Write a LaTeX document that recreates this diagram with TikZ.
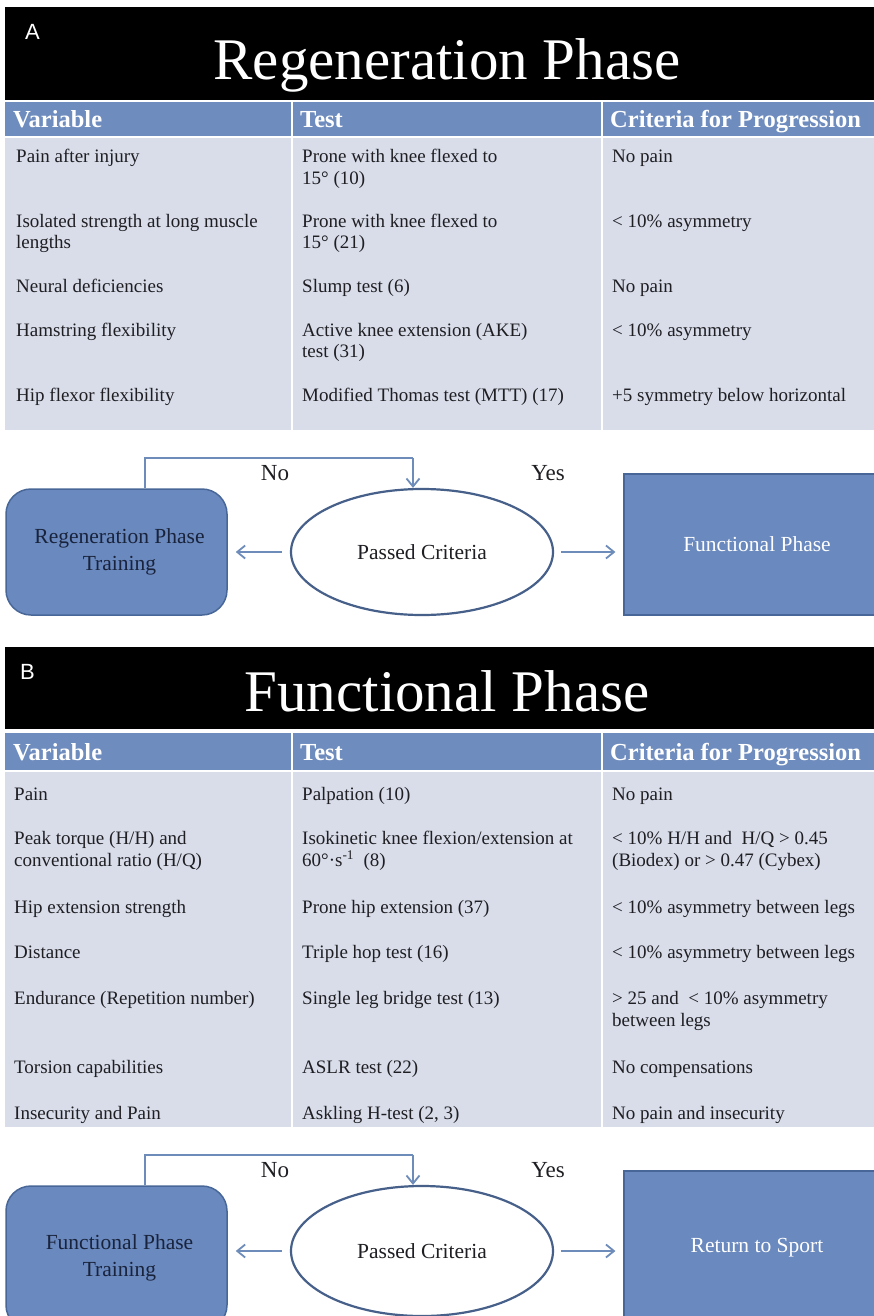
\documentclass[tikz,border=0pt]{standalone}
\usepackage{fontspec}
\setmainfont{Liberation Serif}
\newfontfamily\labelfont{Liberation Sans}
\usetikzlibrary{arrows.meta,shapes.geometric}
\definecolor{hdrblue}{RGB}{110,140,190}
\definecolor{bodybg}{RGB}{217,221,233}
\definecolor{boxfill}{RGB}{106,137,190}
\definecolor{boxline}{RGB}{72,103,152}
\definecolor{arrowc}{RGB}{110,140,185}
\definecolor{ellline}{RGB}{70,96,138}
\definecolor{txt}{RGB}{30,30,35}
\definecolor{boxtxt}{RGB}{25,35,60}
\begin{document}
\begin{tikzpicture}[x=1pt,y=-1pt,
  cell/.style={anchor=base west,inner sep=0pt,text=txt,font=\fontsize{19}{22}\selectfont},
  hdr/.style={anchor=base west,inner sep=0pt,text=white,font=\fontsize{24.5}{27}\selectfont\bfseries},
  ttl/.style={anchor=base,inner sep=0pt,text=white,font=\fontsize{59}{64}\selectfont},
  panel/.style={anchor=north west,inner sep=0pt,text=white,font=\fontsize{22}{24}\labelfont},
  trainbox/.style={draw=boxline,line width=1.5pt,fill=boxfill,rounded corners=25pt,inner sep=0pt,align=center,text=boxtxt,font=\fontsize{21.5}{27}\selectfont},
  resbox/.style={draw=boxline,line width=1.2pt,fill=boxfill,inner sep=0pt,align=center,text=white,font=\fontsize{21.5}{27}\selectfont},
  crit/.style={ellipse,draw=ellline,line width=2.2pt,fill=white,inner sep=0pt,minimum width=262pt,minimum height=126pt,text=txt,font=\fontsize{21.5}{27}\selectfont},
  yn/.style={inner sep=0pt,text=txt,font=\fontsize{23}{26}\selectfont},
  conn/.style={draw=arrowc,line width=1.8pt},
  arr/.style={conn,-{Straight Barb[length=8pt,width=13pt,line width=1.8pt]}}
]
\useasboundingbox (0,0) rectangle (874,1316);
\fill[white] (0,0) rectangle (874,1316);

% ================= PANEL A =================
\fill[black] (5,7) rectangle (874,100);
\node[panel] (labA) at (25,24) {A};
\node[ttl] (titleA) at (447,80) {Regeneration Phase};
\fill[hdrblue] (5,102) rectangle (874,136);
\fill[bodybg] (5,138) rectangle (874,430);
\draw[white,line width=2pt] (292,102) -- (292,430) (602,102) -- (602,430);
\node[hdr] (hA1) at (13,127.5) {Variable};
\node[hdr] (hA2) at (300,127.5) {Test};
\node[hdr] (hA3) at (610,127.5) {Criteria for Progression};

\node[cell] (a11) at (16,163) {Pain after injury};
\node[cell] (a12) at (302,163) {Prone with knee flexed to};
\node[cell] (a12b) at (302,184.5) {15° (10)};
\node[cell] (a13) at (612,163) {No pain};

\node[cell] (a21) at (16,227) {Isolated strength at long muscle};
\node[cell] (a21b) at (16,248.5) {lengths};
\node[cell] (a22) at (302,227) {Prone with knee flexed to};
\node[cell] (a22b) at (302,248.5) {15° (21)};
\node[cell] (a23) at (612,227) {< 10\% asymmetry};

\node[cell] (a31) at (16,292) {Neural deficiencies};
\node[cell] (a32) at (302,292) {Slump test (6)};
\node[cell] (a33) at (612,292) {No pain};

\node[cell] (a41) at (16,336) {Hamstring flexibility};
\node[cell] (a42) at (302,336) {Active knee extension (AKE)};
\node[cell] (a42b) at (302,357.5) {test (31)};
\node[cell] (a43) at (612,336) {< 10\% asymmetry};

\node[cell] (a51) at (16,401) {Hip flexor flexibility};
\node[cell] (a52) at (302,401) {Modified Thomas test (MTT) (17)};
\node[cell] (a53) at (612,401) {+5 symmetry below horizontal};

% flow A
\node[trainbox,minimum width=221pt,minimum height=126pt] (trainA) at (116.5,552) {\hspace*{6pt}Regeneration Phase\\\hspace*{6pt}Training};
\node[crit] (passA) at (422,552) {Passed Criteria};
\node[resbox,minimum width=266pt,minimum height=141pt] (funcA) at (757,544.5) {Functional Phase};
\coordinate (loopAl) at (145,458);
\coordinate (loopAr) at (413,458);
\draw[conn] (trainA.north -| loopAl) -- (loopAl) -- (loopAr);
\draw[arr] (loopAr) -- (loopAr |- passA.north);
\draw[arr,shorten <=8pt,shorten >=8pt] (passA.west) -- (trainA.east |- passA.west);
\draw[arr,shorten <=7pt,shorten >=8pt] (passA.east) -- (funcA.west |- passA.east);
\node[yn] (noA) at (275,473) {No};
\node[yn] (yesA) at (548,473) {Yes};

% ================= PANEL B =================
\fill[black] (5,647) rectangle (874,729);
\node[panel] (labB) at (20,664) {B};
\node[ttl] (titleB) at (447,711) {Functional Phase};
\fill[hdrblue] (5,733) rectangle (874,770);
\fill[bodybg] (5,772) rectangle (874,1127);
\draw[white,line width=2pt] (292,733) -- (292,1127) (602,733) -- (602,1127);
\node[hdr] (hB1) at (13,760) {Variable};
\node[hdr] (hB2) at (300,760) {Test};
\node[hdr] (hB3) at (610,760) {Criteria for Progression};

\node[cell] (b11) at (14,800) {Pain};
\node[cell] (b12) at (302,800) {Palpation (10)};
\node[cell] (b13) at (612,800) {No pain};

\node[cell] (b21) at (14,844) {Peak torque (H/H) and};
\node[cell] (b21b) at (14,866) {conventional ratio (H/Q)};
\node[cell] (b22) at (302,844) {Isokinetic knee flexion/extension at};
\node[cell] (b22b) at (302,866) {60°·s\textsuperscript{-1}\ \ (8)};
\node[cell] (b23) at (612,844) {< 10\% H/H and\ \ H/Q > 0.45};
\node[cell] (b23b) at (612,866) {(Biodex) or > 0.47 (Cybex)};

\node[cell] (b31) at (14,913) {Hip extension strength};
\node[cell] (b32) at (302,913) {Prone hip extension (37)};
\node[cell] (b33) at (612,913) {< 10\% asymmetry between legs};

\node[cell] (b41) at (14,958) {Distance};
\node[cell] (b42) at (302,958) {Triple hop test (16)};
\node[cell] (b43) at (612,958) {< 10\% asymmetry between legs};

\node[cell] (b51) at (14,1004) {Endurance (Repetition number)};
\node[cell] (b52) at (302,1004) {Single leg bridge test (13)};
\node[cell] (b53) at (612,1004) {> 25 and\ \ < 10\% asymmetry};
\node[cell] (b53b) at (612,1026) {between legs};

\node[cell] (b61) at (14,1073) {Torsion capabilities};
\node[cell] (b62) at (302,1073) {ASLR test (22)};
\node[cell] (b63) at (612,1073) {No compensations};

\node[cell] (b71) at (14,1119) {Insecurity and Pain};
\node[cell] (b72) at (302,1119) {Askling H-test (2, 3)};
\node[cell] (b73) at (612,1119) {No pain and insecurity};

% flow B
\node[trainbox,minimum width=221pt,minimum height=144pt] (trainB) at (116.5,1258) {\hspace*{6pt}Functional Phase\\\hspace*{6pt}Training};
\node[crit,minimum height=130pt] (passB) at (422,1251) {Passed Criteria};
\node[resbox,minimum width=266pt,minimum height=154pt] (rts) at (757,1248) {Return to Sport};
\coordinate (loopBl) at (145,1155);
\coordinate (loopBr) at (413,1155);
\draw[conn] (trainB.north -| loopBl) -- (loopBl) -- (loopBr);
\draw[arr] (loopBr) -- (loopBr |- passB.north);
\draw[arr,shorten <=8pt,shorten >=8pt] (passB.west) -- (trainB.east |- passB.west);
\draw[arr,shorten <=7pt,shorten >=8pt] (passB.east) -- (rts.west |- passB.east);
\node[yn] (noB) at (275,1170) {No};
\node[yn] (yesB) at (548,1170) {Yes};
\end{tikzpicture}
\end{document}
